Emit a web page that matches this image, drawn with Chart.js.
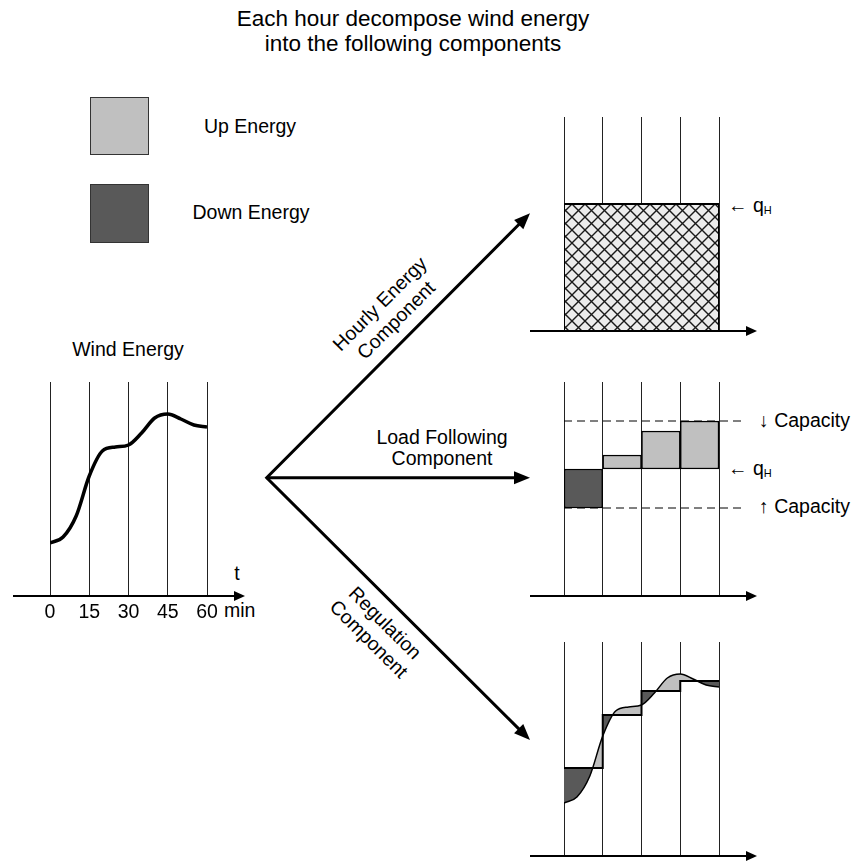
<!DOCTYPE html>
<html>
<head>
<meta charset="utf-8">
<script src="https://cdn.jsdelivr.net/npm/chart.js@4.4.0/dist/chart.umd.min.js"></script>
<style>
  html, body { margin: 0; padding: 0; background: #fff; }
  #page { position: relative; width: 854px; height: 862px; overflow: hidden;
          font-family: "Liberation Sans", Arial, sans-serif; color: #000; }
  .panel { position: absolute; }
  .lbl { position: absolute; white-space: nowrap; line-height: 1; font-size: 19.5px; }
  .c { transform: translate(-50%, -50%); text-align: center; }
  .l { transform: translate(0, -50%); }
  .swatch { position: absolute; box-sizing: border-box; border: 1px solid #333; }
  #arrows { position: absolute; left: 0; top: 0; }
  sub { font-size: 11px; vertical-align: -2px; line-height: 0; }
</style>
</head>
<body>
<div id="page">
  <svg id="arrows" width="854" height="862"></svg>

  <div class="lbl c" style="left:413px; top:31px; font-size:22.5px; line-height:25px;">Each hour decompose wind energy<br>into the following components</div>

  <div class="swatch" style="left:90px; top:97px; width:59px; height:58px; background:#c0c0c0;"></div>
  <div class="lbl c" style="left:250px; top:127px;">Up Energy</div>
  <div class="swatch" style="left:90px; top:184px; width:59px; height:59px; background:#595959;"></div>
  <div class="lbl c" style="left:251px; top:213px;">Down Energy</div>

  <div class="lbl c" style="left:128px; top:350px;">Wind Energy</div>
  <div class="lbl c" style="left:237px; top:574px;">t</div>
  <div class="lbl l" style="left:224px; top:611px;">min</div>

  <div class="lbl c" style="left:388px; top:312px; line-height:23px; transform:translate(-50%,-50%) rotate(-45deg);">Hourly Energy<br>Component</div>
  <div class="lbl c" style="left:442px; top:448px; line-height:21px;">Load Following<br>Component</div>
  <div class="lbl c" style="left:377px; top:631px; line-height:23px; transform:translate(-50%,-50%) rotate(45deg);">Regulation<br>Component</div>

  <div class="lbl l" style="left:728px; top:206px;">&larr; q<sub>H</sub></div>
  <div class="lbl l" style="left:759px; top:421px;">&darr; Capacity</div>
  <div class="lbl l" style="left:728px; top:469px;">&larr; q<sub>H</sub></div>
  <div class="lbl l" style="left:759px; top:507px;">&uarr; Capacity</div>

  <div class="panel" style="left:0px; top:370px;"><canvas id="windChart" width="270" height="260"></canvas></div>
  <div class="panel" style="left:520px; top:100px;"><canvas id="hourlyChart" width="260" height="240"></canvas></div>
  <div class="panel" style="left:520px; top:370px;"><canvas id="loadChart" width="260" height="240"></canvas></div>
  <div class="panel" style="left:520px; top:630px;"><canvas id="regChart" width="260" height="232"></canvas></div>
</div>

<script>
// ===================== DATA =====================
const minutes = [0, 5, 10, 15, 20, 25, 30, 35, 40, 45, 50, 55, 60];
const windEnergy = [53, 59, 80, 120, 145, 149, 151, 163, 178, 182, 177, 171, 169];

const tickMinutes = [0, 15, 30, 45, 60];
const tickLabels = ['0', '15', '30', '45', '60'];

const intervalStarts = [0, 15, 30, 45];
const intervalLength = 15;
const intervalEnergy = [88, 141, 165, 175];   // load following level per quarter hour

const hourlyEnergy = 127;    // q_H
const capacityTop = 175;     // "↓ Capacity"
const capacityBottom = 88;   // "↑ Capacity"

// ===================== STYLE =====================
const upColor = '#c0c0c0';
const downColor = '#595959';
const gridColor = '#222';
const yTop = 214;
const hourEnd = tickMinutes[tickMinutes.length - 1];

Chart.defaults.font.family = '"Liberation Sans", Arial, sans-serif';
Chart.defaults.color = '#000';

// axis line with arrow head, sticking out of the plot on both sides
function axisArrow(overLeft, overRight) {
  return {
    id: 'axisArrow',
    afterDatasetsDraw(chart) {
      const { ctx, chartArea, scales } = chart;
      const y = Math.round(scales.y.getPixelForValue(0));
      const x0 = chartArea.left - overLeft;
      const x1 = chartArea.right + overRight;
      ctx.save();
      ctx.strokeStyle = '#000';
      ctx.fillStyle = '#000';
      ctx.lineWidth = 2;
      ctx.beginPath();
      ctx.moveTo(x0, y);
      ctx.lineTo(x1 - 8, y);
      ctx.stroke();
      ctx.beginPath();
      ctx.moveTo(x1, y);
      ctx.lineTo(x1 - 11, y - 5);
      ctx.lineTo(x1 - 11, y + 5);
      ctx.closePath();
      ctx.fill();
      ctx.restore();
    }
  };
}

// minute labels under the axis, placed with the x scale
const tickText = {
  id: 'tickText',
  afterDraw(chart) {
    const { ctx, scales } = chart;
    const y = scales.y.getPixelForValue(0) + 22;
    ctx.save();
    ctx.fillStyle = '#000';
    ctx.font = '19.5px "Liberation Sans", Arial, sans-serif';
    ctx.textAlign = 'center';
    ctx.textBaseline = 'alphabetic';
    tickMinutes.forEach((m, i) => ctx.fillText(tickLabels[i], scales.x.getPixelForValue(m), y));
    ctx.restore();
  }
};

function makeHatch() {
  const c = document.createElement('canvas');
  c.width = 13; c.height = 13;
  const g = c.getContext('2d');
  g.fillStyle = '#ececec';
  g.fillRect(0, 0, 13, 13);
  g.strokeStyle = '#1a1a1a';
  g.lineWidth = 1.4;
  g.beginPath();
  g.moveTo(-1, -1); g.lineTo(14, 14);
  g.moveTo(14, -1); g.lineTo(-1, 14);
  g.stroke();
  return g.createPattern(c, 'repeat');
}

function baseOptions(padding) {
  return {
    responsive: false,
    animation: false,
    events: [],
    layout: { padding },
    plugins: { legend: { display: false }, tooltip: { enabled: false } },
    scales: {
      x: {
        type: 'linear',
        min: 0,
        max: hourEnd,
        offset: false,
        border: { display: false },
        grid: { color: gridColor, lineWidth: 1, drawTicks: false, offset: false },
        afterBuildTicks: (scale) => { scale.ticks = tickMinutes.map(v => ({ value: v })); },
        ticks: { display: false }
      },
      y: { display: false, min: 0, max: yTop }
    }
  };
}

const curvePoints = minutes.map((m, i) => ({ x: m, y: windEnergy[i] }));

// ===================== WIND ENERGY =====================
new Chart(document.getElementById('windChart'), {
  type: 'line',
  data: {
    datasets: [{
      data: curvePoints,
      borderColor: '#000',
      borderWidth: 3.5,
      pointRadius: 0,
      cubicInterpolationMode: 'monotone',
      fill: false
    }]
  },
  options: baseOptions({ left: 50, right: 63, top: 12, bottom: 34 }),
  plugins: [axisArrow(37, 38), tickText]
});

// ===================== HOURLY ENERGY COMPONENT =====================
new Chart(document.getElementById('hourlyChart'), {
  type: 'line',
  data: {
    datasets: [{
      data: [
        { x: 0, y: 0 }, { x: 0, y: hourlyEnergy },
        { x: hourEnd, y: hourlyEnergy }, { x: hourEnd, y: 0 }
      ],
      borderColor: '#000',
      borderWidth: 2,
      pointRadius: 0,
      tension: 0,
      backgroundColor: makeHatch(),
      fill: 'origin'
    }]
  },
  options: baseOptions({ left: 44, right: 61, top: 17, bottom: 9 }),
  plugins: [axisArrow(34, 38)]
});

// ===================== LOAD FOLLOWING COMPONENT =====================
const dashEnd = hourEnd + 9.3;
new Chart(document.getElementById('loadChart'), {
  type: 'bar',
  data: {
    datasets: [
      {
        type: 'bar',
        data: intervalStarts.map((s, i) => ({ x: s + intervalLength / 2, y: [hourlyEnergy, intervalEnergy[i]] })),
        backgroundColor: intervalEnergy.map(v => v < hourlyEnergy ? downColor : upColor),
        borderColor: '#000',
        borderWidth: 1.5,
        borderSkipped: false,
        categoryPercentage: 1,
        barPercentage: 1
      },
      {
        type: 'line',
        data: [{ x: 0, y: capacityTop }, { x: dashEnd, y: capacityTop }],
        borderColor: '#000', borderWidth: 1, borderDash: [8, 5],
        pointRadius: 0, clip: false, fill: false
      },
      {
        type: 'line',
        data: [{ x: 0, y: capacityBottom }, { x: dashEnd, y: capacityBottom }],
        borderColor: '#000', borderWidth: 1, borderDash: [8, 5],
        pointRadius: 0, clip: false, fill: false
      }
    ]
  },
  options: baseOptions({ left: 44, right: 61, top: 12, bottom: 14 }),
  plugins: [axisArrow(34, 38)]
});

// ===================== REGULATION COMPONENT =====================
const stepPoints = intervalStarts.map((s, i) => ({ x: s, y: intervalEnergy[i] }));
stepPoints.push({ x: hourEnd, y: intervalEnergy[intervalEnergy.length - 1] });

new Chart(document.getElementById('regChart'), {
  type: 'line',
  data: {
    datasets: [
      {
        data: stepPoints,
        stepped: true,
        borderColor: '#000',
        borderWidth: 2,
        pointRadius: 0,
        fill: false
      },
      {
        data: curvePoints,
        borderColor: '#000',
        borderWidth: 1.5,
        pointRadius: 0,
        cubicInterpolationMode: 'monotone',
        fill: { target: 0, above: upColor, below: downColor }
      }
    ]
  },
  options: baseOptions({ left: 44, right: 61, top: 12, bottom: 6 }),
  plugins: [axisArrow(34, 38)]
});

// ===================== BIG ARROWS =====================
const svg = document.getElementById('arrows');
const origin = [266.7, 477.7];
const tips = [[530, 213.3], [530, 477.7], [530, 740]];
const headLen = 16, headHalf = 6.5;
const ends = tips.map(([tx, ty]) => {
  const dx = tx - origin[0], dy = ty - origin[1];
  const len = Math.hypot(dx, dy);
  const ux = dx / len, uy = dy / len;
  const bx = tx - ux * headLen, by = ty - uy * headLen;
  const head = `M${tx},${ty} L${bx - uy * headHalf},${by + ux * headHalf} L${bx + uy * headHalf},${by - ux * headHalf} Z`;
  return { line: [tx - ux * (headLen - 3), ty - uy * (headLen - 3)], head };
});
let html = `<path d="M${ends[0].line[0]},${ends[0].line[1]} L${origin[0]},${origin[1]} L${ends[2].line[0]},${ends[2].line[1]}" fill="none" stroke="#000" stroke-width="3" stroke-linejoin="miter"/>`;
html += `<path d="M${origin[0]},${origin[1]} L${ends[1].line[0]},${ends[1].line[1]}" fill="none" stroke="#000" stroke-width="3"/>`;
ends.forEach(e => { html += `<path d="${e.head}" fill="#000"/>`; });
svg.innerHTML = html;
</script>
</body>
</html>
